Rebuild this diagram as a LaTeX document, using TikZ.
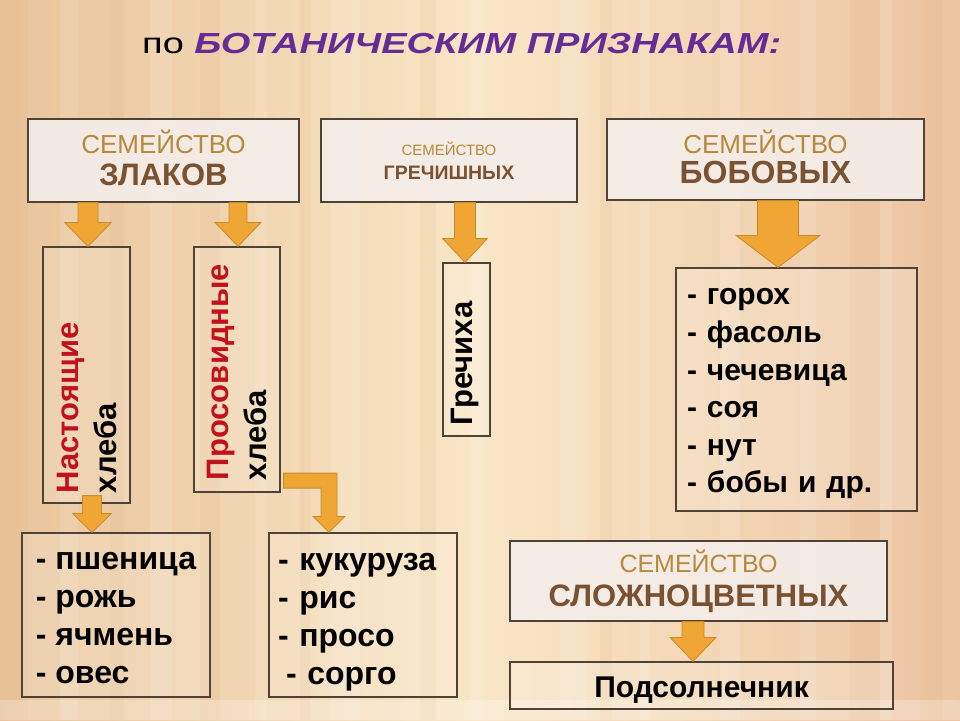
\documentclass[tikz,border=0pt]{standalone}
\usepackage{fontspec}
\setmainfont{Liberation Sans}
\usetikzlibrary{calc}

\definecolor{bgl}{HTML}{E9C49B}
\definecolor{bgm}{HTML}{F9E6C6}
\definecolor{bgr}{HTML}{EDC4A2}
\definecolor{bgdark}{HTML}{D9A06E}
\definecolor{titlevio}{HTML}{662C96}
\definecolor{famlight}{HTML}{B8893C}
\definecolor{famdark}{HTML}{7A5131}
\definecolor{boxline}{HTML}{4F4237}
\definecolor{boxfill}{HTML}{F4EDE9}
\definecolor{arrfill}{HTML}{F0A634}
\definecolor{arrline}{HTML}{C88B2C}
\definecolor{redtext}{HTML}{C1121B}

% block arrow: #1 start, #2 tip, #3 half shaft, #4 half head, #5 head length
\newcommand{\fatarrow}[5]{%
  \filldraw[arrowfill] let \p1=#1, \p2=#2 in
    (\x2-#3,\y1) -- (\x2+#3,\y1) -- (\x2+#3,\y2+#5) -- (\x2+#4,\y2+#5)
    -- (\x2,\y2) -- (\x2-#4,\y2+#5) -- (\x2-#3,\y2+#5) -- cycle;}

\begin{document}
\begin{tikzpicture}[x=1pt,y=-1pt,
  famhead/.style={draw=boxline, line width=1.2pt, fill=boxfill, fill opacity=0.92, text opacity=1, align=center, inner sep=0pt},
  listbox/.style={draw=boxline, line width=1.2pt, fill=white, fill opacity=0.18, text opacity=1, align=left, inner sep=0pt},
  arrowfill/.style={fill=arrfill, draw=arrline, line width=0.8pt}]

\useasboundingbox (0,0) rectangle (960,720);

%background with stripes
\shade[left color=bgl, right color=bgr, middle color=bgm] (0,0) rectangle (960,720);
\foreach \sx/\sw in {60/18, 150/22, 255/12, 330/30, 470/14, 560/26, 640/10, 720/20, 800/16, 880/12}
  \fill[white, opacity=0.12] (\sx,0) rectangle ++(\sw,720);
\foreach \sx/\sw in {0/28, 110/14, 200/20, 300/10, 420/16, 600/12, 850/30, 920/22}
  \fill[bgdark, opacity=0.1] (\sx,0) rectangle ++(\sw,720);
\fill[white, opacity=0.25] (0,700) rectangle (960,720);

%title
\node (title) [anchor=base west, inner sep=0pt] at (142,53)
  {\fontsize{29}{29}\selectfont\scalebox{1.31}[1]{по \textcolor{titlevio}{\bfseries\itshape БОТАНИЧЕСКИМ ПРИЗНАКАМ:}}};

%families
\node (zlak) [famhead, minimum width=271pt, minimum height=83pt, font=\fontsize{26}{32}\selectfont] at (163.5,160.5)
  {\textcolor{famlight}{СЕМЕЙСТВО}\\{\fontsize{31}{32}\selectfont\bfseries\color{famdark}ЗЛАКОВ\rule[-6pt]{0pt}{0pt}}};
\node (grech) [famhead, minimum width=256pt, minimum height=83pt, font=\fontsize{15}{24}\selectfont] at (449,160.5)
  {\textcolor{famlight}{СЕМЕЙСТВО}\\{\fontsize{19.5}{24}\selectfont\bfseries\color{famdark}ГРЕЧИШНЫХ}};
\node (bob) [famhead, minimum width=317pt, minimum height=81pt, font=\fontsize{26}{30}\selectfont] at (765.5,159.5)
  {\textcolor{famlight}{СЕМЕЙСТВО}\\{\fontsize{32}{30}\selectfont\bfseries\color{famdark}БОБОВЫХ\rule[-5pt]{0pt}{0pt}}};
\node (slozh) [famhead, minimum width=377pt, minimum height=80pt, font=\fontsize{25}{34}\selectfont] at (698.5,581)
  {\textcolor{famlight}{СЕМЕЙСТВО}\\{\fontsize{31}{34}\selectfont\bfseries\color{famdark}СЛОЖНОЦВЕТНЫХ}};

%groups, written upwards
\node (nast) [listbox, minimum width=87pt, minimum height=256pt] at (86.5,375)
  {\rotatebox{90}{\parbox{236pt}{\fontsize{31}{38}\selectfont\bfseries\raggedright\textcolor{redtext}{Настоящие}\\хлеба}}};
\node (pros) [listbox, minimum width=86pt, minimum height=245pt] at (237,369.5)
  {\rotatebox{90}{\parbox{221pt}{\fontsize{31}{38}\selectfont\bfseries\raggedright\textcolor{redtext}{Просовидные}\\хлеба}}};
\node (grechiha) [listbox, minimum width=47pt, minimum height=173pt] at (466.5,349.5)
  {\rotatebox{90}{\parbox{151pt}{\fontsize{31}{38}\selectfont\bfseries\raggedright Гречиха\rule[-10pt]{0pt}{10pt}}}};

%crop lists
\node (list1) [listbox, minimum width=188pt, minimum height=164pt, font=\fontsize{32}{38}\selectfont\bfseries] at (116,615)
  {\rule{0pt}{24pt}- пшеница\\- рожь\\- ячмень\\- овес};
\node (list2) [listbox, minimum width=188pt, minimum height=164pt, text width=170pt, font=\fontsize{32}{38}\selectfont\bfseries] at (363,615)
  {\rule{0pt}{30.7pt}- кукуруза\\- рис\\- просо\\\hspace*{8pt}- сорго};
\node (boblist) [listbox, minimum width=241pt, minimum height=243pt, text width=219pt, font=\fontsize{30}{37.6}\selectfont\bfseries] at (796.5,389.5)
  {\rule{0pt}{25pt}- горох\\- фасоль\\- чечевица\\- соя\\- нут\\- бобы и др.};
\node (podsol) [listbox, minimum width=383pt, minimum height=47pt, font=\fontsize{30}{36}\selectfont\bfseries] at (701.5,685.5)
  {\rule{0pt}{29pt}Подсолнечник};

%arrows
\fatarrow{(zlak.south)}{([xshift=1.5pt]nast.north)}{10pt}{23.5pt}{24pt}
\fatarrow{(zlak.south)}{([xshift=1pt]pros.north)}{9pt}{23pt}{24pt}
\fatarrow{(grech.south)}{([xshift=-1.5pt]grechiha.north)}{10.5pt}{22.5pt}{24pt}
\fatarrow{(bob.south)}{([xshift=-18.5pt]boblist.north)}{20.5pt}{42pt}{32pt}
\fatarrow{([yshift=8pt]nast.south)}{([xshift=-24pt]list1.north)}{9.5pt}{19.5pt}{19pt}
\fatarrow{(slozh.south)}{([xshift=-8.5pt]podsol.north)}{11pt}{23pt}{24pt}

%bent arrow to the second list
\coordinate (pbend) at ($(pros.south east)+(3,-12)$);
\filldraw[arrowfill] let \p1=(pbend), \p2=([xshift=-34pt]list2.north) in
  (\x1,\y1+7.5pt) -- (\x2+8pt,\y1+7.5pt) -- (\x2+8pt,\y2+16pt) -- (\x2+16pt,\y2+16pt)
  -- (\x2,\y2) -- (\x2-16pt,\y2+16pt) -- (\x2-8pt,\y2+16pt) -- (\x2-8pt,\y1-7.5pt)
  -- (\x1,\y1-7.5pt) -- cycle;

\end{tikzpicture}
\end{document}
